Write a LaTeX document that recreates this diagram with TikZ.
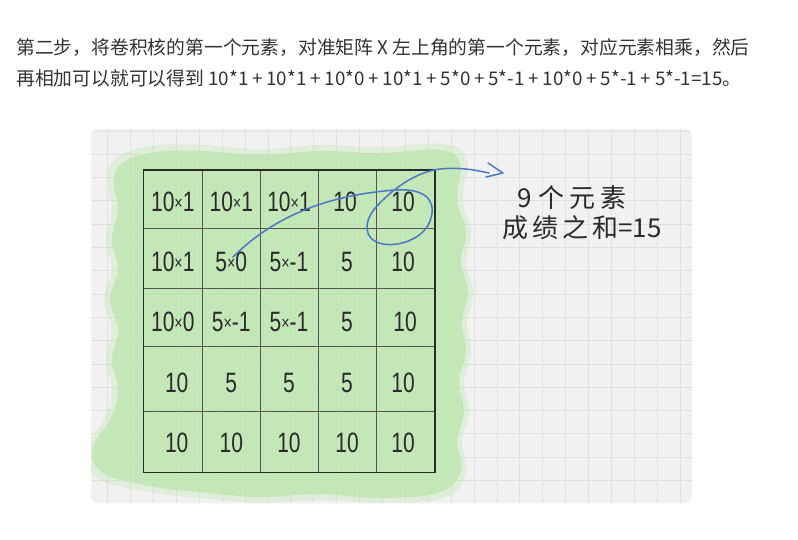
\documentclass[tikz,border=0pt]{standalone}
\usepackage{fontspec}
\setmainfont{Liberation Sans}
\newfontfamily\cjk{Noto Sans CJK SC}
\usepackage{graphicx}
\definecolor{textgray}{HTML}{333333}
\definecolor{cardbg}{HTML}{F1F1F1}
\definecolor{gridcol}{HTML}{E0E0E0}
\definecolor{washgreen}{HTML}{B9E6AA}
\definecolor{inkblue}{HTML}{4A78C2}
\definecolor{ink}{HTML}{2A2A2A}
\newcommand\cellt[1]{\scalebox{0.75}[1]{#1}}
\newcommand\tms{\raisebox{1.5pt}{\fontsize{19}{20}\selectfont ×}}
\newcommand\pl{\hspace{3.8pt}+\hspace{3.8pt}}
\tikzset{
  cell/.style={font=\fontsize{28}{30}\selectfont, text=ink, inner sep=0pt},
  tableouter/.style={draw=ink, line width=1.3pt},
  tableinner/.style={draw=ink!80, line width=0.8pt},
  gridline/.style={draw=gridcol, line width=0.9pt},
  bluepen/.style={draw=inkblue, line width=1.5pt, line cap=round, line join=round},
  note/.style={font=\cjk\fontsize{26}{30}\selectfont, text=ink, anchor=center, inner sep=0pt},
  para/.style={font=\cjk\fontsize{18.8}{22}\selectfont, text=textgray, anchor=west, inner sep=0pt}
}
\begin{document}
\begin{tikzpicture}[x=1pt,y=-1pt]
\useasboundingbox (0,0) rectangle (798,539);
\fill[white] (0,0) rectangle (798,539);
% paragraph
\node[para] (line1) at (16,48) {第二步，将卷积核的第一个元素，对准矩阵 X 左上角的第一个元素，对应元素相乘，然后};
\node[para] (line2) at (16,78) {再相加可以就可以得到 10*1\pl10*1\pl10*0\pl10*1\pl5*0\pl5*-1\pl10*0\pl5*-1\pl5*-1=15。};
% card
\fill[cardbg, rounded corners=7] (91,129) rectangle (692,503);
\begin{scope}
\clip[rounded corners=7] (91,129) rectangle (692,503);
\foreach \i in {0,...,25} \draw[gridline] ({107.7+22.9*\i},129) -- ++(0,374);
\foreach \j in {0,...,16} \draw[gridline] (91,{131+23.3*\j}) -- ++(601,0);
% green wash (soft outer halo + body)
\fill[washgreen, opacity=0.3] plot[smooth cycle, tension=0.7] coordinates {
 (114,160) (150,146) (200,145) (260,149) (320,145) (380,147) (444,144) (467,160)
 (463,200) (471,232) (466,262) (473,292) (467,322) (471,352) (464,382) (469,412)
 (462,442) (466,472) (444,498) (380,503) (320,500) (260,503) (200,498) (150,492)
 (97,478) (88,447) (104,420) (112,390) (106,360) (112,330) (104,300) (112,270)
 (106,240) (112,210) (108,185)};
\fill[washgreen, opacity=0.72] plot[smooth cycle, tension=0.7] coordinates {
 (120,165) (150,153) (200,151) (260,155) (320,151) (380,153) (440,150) (460,163)
 (457,200) (466,232) (461,262) (468,292) (462,322) (466,352) (459,382) (464,412)
 (457,442) (461,470) (440,492) (380,498) (320,494) (260,497) (200,492) (150,486)
 (102,472) (93,447) (110,420) (118,390) (112,360) (118,330) (110,300) (118,270)
 (112,240) (118,210) (114,185)};
\end{scope}
% table
\draw[tableinner] (202.3,170) -- (202.3,472.3);
\draw[tableinner] (260.3,170) -- (260.3,472.3);
\draw[tableinner] (318,170) -- (318,472.3);
\draw[tableinner] (376,170) -- (376,472.3);
\draw[tableinner] (143.3,228.3) -- (435,228.3);
\draw[tableinner] (143.3,288.3) -- (435,288.3);
\draw[tableinner] (143.3,346.7) -- (435,346.7);
\draw[tableinner] (143.3,411.7) -- (435,411.7);
\draw[tableouter] (143.3,170) rectangle (435,472.3);
% cells
\node[cell] (c11) at (172.8,201.7) {\cellt{10\tms1}};
\node[cell] (c12) at (231.3,201.7) {\cellt{10\tms1}};
\node[cell] (c13) at (289,201.7) {\cellt{10\tms1}};
\node[cell] (c14) at (345,201.7) {\cellt{10}};
\node[cell] (c15) at (403,201.7) {\cellt{10}};
\node[cell] (c21) at (172.8,261.7) {\cellt{10\tms1}};
\node[cell] (c22) at (231.3,261.7) {\cellt{5\tms0}};
\node[cell] (c23) at (289,261.7) {\cellt{5\tms-1}};
\node[cell] (c24) at (347,261.7) {\cellt{5}};
\node[cell] (c25) at (403,261.7) {\cellt{10}};
\node[cell] (c31) at (172.8,321.7) {\cellt{10\tms0}};
\node[cell] (c32) at (231.3,321.7) {\cellt{5\tms-1}};
\node[cell] (c33) at (289,321.7) {\cellt{5\tms-1}};
\node[cell] (c34) at (347,321.7) {\cellt{5}};
\node[cell] (c35) at (405,321.7) {\cellt{10}};
\node[cell] (c41) at (176.7,383) {\cellt{10}};
\node[cell] (c42) at (231.3,383) {\cellt{5}};
\node[cell] (c43) at (289,383) {\cellt{5}};
\node[cell] (c44) at (347,383) {\cellt{5}};
\node[cell] (c45) at (403,383) {\cellt{10}};
\node[cell] (c51) at (176.7,443) {\cellt{10}};
\node[cell] (c52) at (231.3,443) {\cellt{10}};
\node[cell] (c53) at (289,443) {\cellt{10}};
\node[cell] (c54) at (347,443) {\cellt{10}};
\node[cell] (c55) at (403,443) {\cellt{10}};
% note text
\node[note] (n1) at (572,198) {9\hspace{6pt}个\hspace{5pt}元\hspace{5pt}素};
\node[note] (n2) at (582,228) {成\hspace{4pt}绩\hspace{4pt}之\hspace{4pt}和=15};
% blue stroke
\coordinate (s0) at (233,257);
\coordinate (s1) at (395,190);
\coordinate (s2) at (431,218);
\coordinate (s3) at (383,244);
\coordinate (s4) at (378,205);
\coordinate (s5) at (440,169);
\coordinate (s6) at (489,173);
\draw[bluepen] (s0) .. controls (275,215) and (330,195) .. (s1)
  .. controls (425,188) and (436,200) .. (s2)
  .. controls (426,238) and (400,247) .. (s3)
  .. controls (362,240) and (363,220) .. (s4)
  .. controls (392,190) and (415,172) .. (s5)
  .. controls (460,167) and (475,170) .. (s6);
\coordinate (h1) at (488,163);
\coordinate (h2) at (503,173);
\coordinate (h3) at (486,177);
\draw[bluepen] (h1) -- (h2) -- (h3);
\end{tikzpicture}
\end{document}
